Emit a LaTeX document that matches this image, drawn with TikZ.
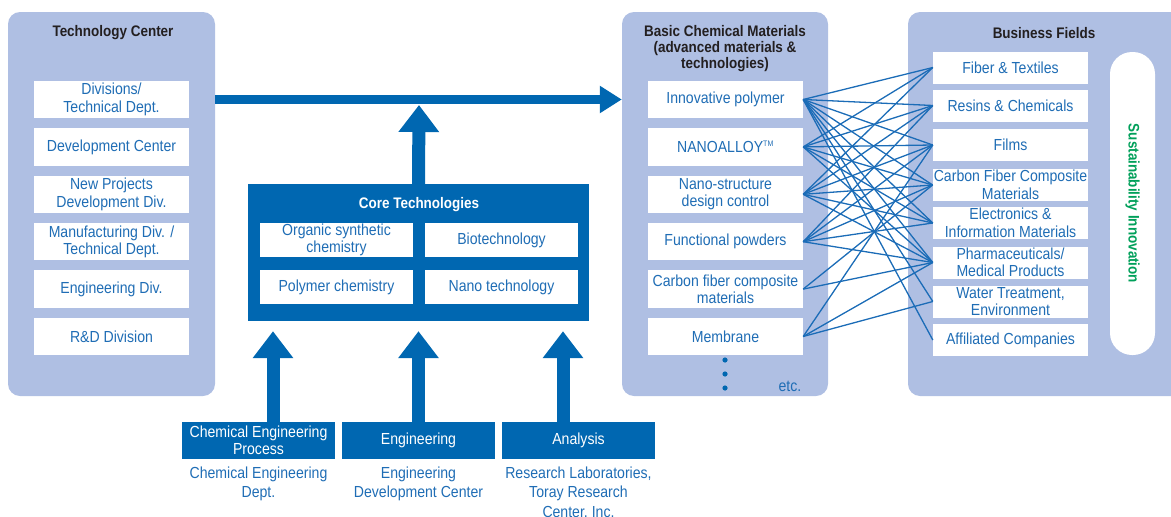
\documentclass[tikz,border=0pt]{standalone}
\usepackage{fontspec}
\setmainfont{Liberation Sans}[FakeStretch=0.88]
\usetikzlibrary{arrows.meta,positioning}
\definecolor{PanelBlue}{HTML}{AFBFE3}
\definecolor{CoreBlue}{HTML}{0067B1}
\definecolor{TextBlue}{HTML}{1F6DB5}
\definecolor{LinkBlue}{HTML}{1B6CB7}
\definecolor{Ink}{HTML}{231F20}
\definecolor{SusGreen}{HTML}{00A05A}
\newcommand{\cardsize}{\fontsize{16}{17.5}\selectfont}
\newcommand{\headsize}{\fontsize{15.3}{16}\selectfont\bfseries}
\tikzset{
 panel/.style={fill=PanelBlue, rounded corners=12pt, minimum height=384pt, inner sep=0pt},
 heading/.style={text=Ink, align=center, font=\headsize, inner sep=0pt},
 card/.style={fill=white, text=TextBlue, minimum width=155pt, minimum height=37.5pt, align=center, inner sep=1pt, font=\cardsize},
 fieldcard/.style={card, minimum height=32pt},
 corecard/.style={card, minimum width=153pt, minimum height=34pt},
 deptbox/.style={fill=CoreBlue, text=white, minimum width=153pt, minimum height=37pt, align=center, inner sep=1pt, font=\cardsize},
 caption/.style={text=TextBlue, align=center, inner sep=0pt, font=\fontsize{16}{19.5}\selectfont},
 link/.style={draw=LinkBlue, line width=1.3pt},
 mainarrow/.style={draw=CoreBlue, line width=9pt, -{Triangle[width=26pt,length=22pt]}},
 uparrow/.style={draw=CoreBlue, line width=13pt, -{Triangle[width=39pt,length=27pt]}}
}
\begin{document}
\begin{tikzpicture}[x=1pt,y=-1pt]
\useasboundingbox (0,0) rectangle (1171,517);
% three panels
\node[panel, minimum width=207pt] (tech) at (111.5,204) {};
\node[panel, minimum width=206pt] (mat) at (725,204) {};
\node[panel, minimum width=277pt] (biz) at (1046.5,204) {};
\node[heading] (techhead) at (113,33) {Technology Center};
\node[heading] (mathead) at (725,49) {Basic Chemical Materials\\(advanced materials \&\\technologies)};
\node[heading] (bizhead) at (1044,33) {Business Fields};

% Technology Center
\node[card] (divisions) at (111.5,99.5) {Divisions/\\Technical Dept.};
\node[card, below=9.5pt of divisions] (devcenter) {Development Center};
\node[card, below=9.5pt of devcenter] (newproj) {New Projects\\Development Div.};
\node[card, below=9.5pt of newproj] (manuf) {Manufacturing Div. /\\Technical Dept.};
\node[card, below=9.5pt of manuf] (engdiv) {Engineering Div.};
\node[card, below=9.5pt of engdiv] (rnd) {R\&D Division};

% Basic Chemical Materials
\node[card] (innov) at (725.5,99.5) {Innovative polymer};
\node[card, below=9.5pt of innov] (nanoalloy) {NANOALLOY\textsuperscript{\fontsize{8}{8}\selectfont TM}};
\node[card, below=9.5pt of nanoalloy] (nanostruct) {Nano-structure\\design control};
\node[card, below=9.5pt of nanostruct] (powders) {Functional powders};
\node[card, below=9.5pt of powders] (cfmat) {Carbon fiber composite\\materials};
\node[card, below=9.5pt of cfmat] (membrane) {Membrane};
\foreach \yy in {360,374,388} \fill[CoreBlue] (725,\yy) circle[radius=2.6pt];
\node[text=TextBlue, font=\cardsize, inner sep=0pt] (etc) at (790,386) {etc.};

% Business Fields
\node[fieldcard] (fiber) at (1010.5,67.5) {Fiber \& Textiles};
\node[fieldcard] (resins) at (1010.5,105.5) {Resins \& Chemicals};
\node[fieldcard] (films) at (1010.5,145) {Films};
\node[fieldcard] (cfcomp) at (1010.5,185) {Carbon Fiber Composite\\Materials};
\node[fieldcard] (electronics) at (1010.5,223) {Electronics \&\\Information Materials};
\node[fieldcard] (pharma) at (1010.5,262.5) {Pharmaceuticals/\\Medical Products};
\node[fieldcard] (water) at (1010.5,301.5) {Water Treatment,\\Environment};
\node[fieldcard] (affiliated) at (1010.5,340) {Affiliated Companies};
\node[fill=white, rounded corners=22pt, minimum width=45pt, minimum height=303pt, inner sep=0pt] (pill) at (1132.5,203.5) {};
\node[text=SusGreen, font=\headsize, rotate=-90] (sustain) at (pill.center) {Sustainability Innovation};

% links between materials and fields
\foreach \m/\b in {innov/fiber, innov/resins, innov/films, innov/cfcomp, innov/electronics, innov/pharma, innov/water, innov/affiliated,
  nanoalloy/fiber, nanoalloy/resins, nanoalloy/films, nanoalloy/cfcomp, nanoalloy/electronics, nanoalloy/pharma,
  nanostruct/fiber, nanostruct/resins, nanostruct/films, nanostruct/cfcomp, nanostruct/electronics, nanostruct/pharma,
  powders/resins, powders/films, powders/cfcomp, powders/electronics, powders/pharma,
  cfmat/cfcomp, cfmat/pharma,
  membrane/films, membrane/pharma, membrane/water}
  \draw[link] (\m.east) -- (\b.west);

% Core Technologies
\node[fill=CoreBlue, minimum width=341pt, minimum height=137pt, inner sep=0pt] (core) at (418.5,252.5) {};
\node[heading, text=white] (corehead) at (419,205) {Core Technologies};
\node[corecard] (organic) at (336.5,240) {Organic synthetic\\chemistry};
\node[corecard] (biotech) at (501.5,240) {Biotechnology};
\node[corecard] (polychem) at (336.5,287) {Polymer chemistry};
\node[corecard] (nanotech) at (501.5,287) {Nano technology};

% arrows
\coordinate (hub) at (419,105);
\draw[mainarrow] (tech.east |- innov) -- (mat.west |- innov);
\draw[uparrow] (core.north) -- (hub);

% departments
\node[deptbox] (cep) at (258.5,440.5) {Chemical Engineering\\Process};
\node[deptbox] (eng) at (418.5,440.5) {Engineering};
\node[deptbox] (analysis) at (578.5,440.5) {Analysis};
\node[caption, below=7pt of cep] (cepcap) {Chemical Engineering\\Dept.};
\node[caption, below=7pt of eng] (engcap) {Engineering\\Development Center};
\node[caption, below=7pt of analysis] (anacap) {Research Laboratories,\\Toray Research\\Center, Inc.};
\draw[uparrow] ([xshift=14.5pt]cep.north) -- ([xshift=-145.5pt,yshift=-10pt]core.south);
\draw[uparrow] (eng.north) -- ([yshift=-10pt]core.south);
\draw[uparrow] ([xshift=-15.5pt]analysis.north) -- ([xshift=144.5pt,yshift=-10pt]core.south);
\end{tikzpicture}
\end{document}
